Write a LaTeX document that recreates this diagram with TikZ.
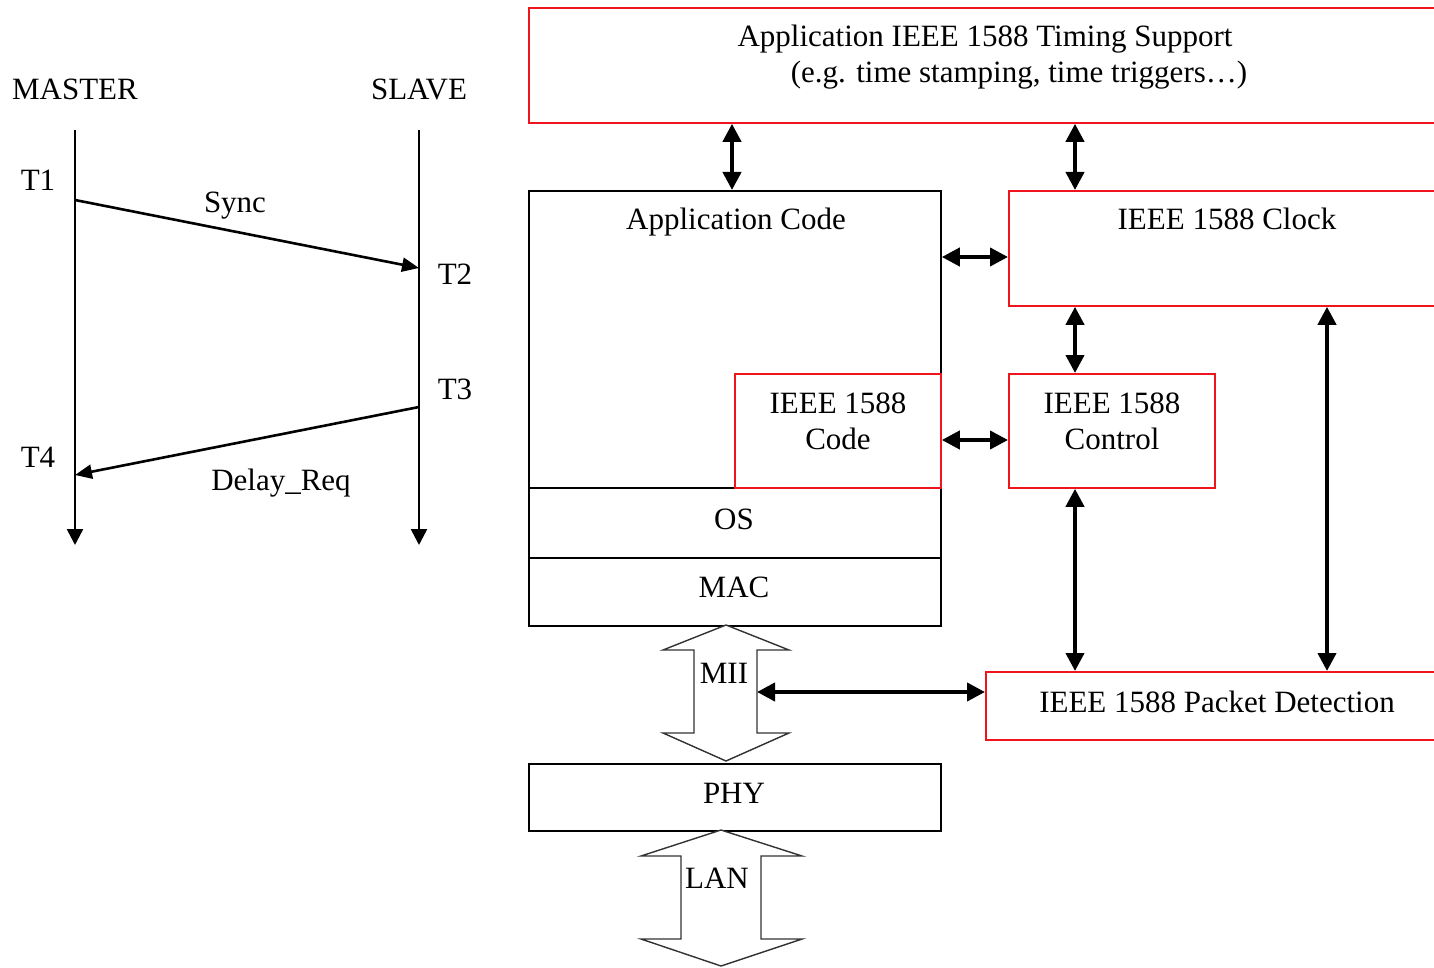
\documentclass[tikz,border=0pt]{standalone}
\usepackage{fontspec}
\setmainfont{Liberation Serif}
\usetikzlibrary{arrows.meta}
\definecolor{bred}{RGB}{240,20,30}
\begin{document}
\begin{tikzpicture}[x=0.5pt,y=-0.5pt,
  txt/.style={font=\fontsize{15.5}{18}\selectfont, inner sep=0, anchor=base},
  blk/.style={draw=black, line width=0.9pt, inner sep=0, anchor=north west},
  rbox/.style={draw=bred, line width=0.9pt, inner sep=0, anchor=north west},
  bigarr/.style={line width=2pt, {Triangle[length=9pt,width=9pt]}-{Triangle[length=9pt,width=9pt]}},
  lifeline/.style={line width=1.3pt, -{Triangle[length=8pt,width=8pt]}},
  msg/.style={line width=1.3pt, -{Triangle[length=8.5pt,width=7pt]}},
  fat/.style={draw=black!80, line width=0.7pt, fill=white, line join=miter}
]
\useasboundingbox (0,0) rectangle (1434,968);
\clip (0,0) rectangle (1434,968);
\fill[white] (0,0) rectangle (1434,968);

% ---------- sequence diagram ----------
\node[txt] (master) at (75,100) {MASTER};
\node[txt] (slave) at (419,100) {SLAVE};
\coordinate (mtop) at (75,130);
\coordinate (mbot) at (75,545);
\coordinate (stop) at (419,130);
\coordinate (sbot) at (419,545);
\draw[lifeline] (mtop) -- (mbot);
\draw[lifeline] (stop) -- (sbot);
\coordinate (t1) at (75,200);
\coordinate (t2) at (419,268);
\coordinate (t3) at (419,407);
\coordinate (t4) at (75,475);
\draw[msg] (t1) -- (t2);
\draw[msg] (t3) -- (t4);
\node[txt] (lt1) at (38,191) {T1};
\node[txt] (lt2) at (455,285) {T2};
\node[txt] (lt3) at (455,399) {T3};
\node[txt] (lt4) at (38,467) {T4};
\node[txt] (lsync) at (235,213) {Sync};
\node[txt] (ldreq) at (281,490) {Delay\_Req};

% ---------- block diagram ----------
\node[rbox, minimum width=456pt, minimum height=57.5pt] (top) at (528,7) {};
\node[txt] (topa) at (985,47) {Application IEEE 1588 Timing Support};
\node[txt] (topb) at (1019,83) {(e.g. time stamping, time triggers\ldots)};

\node[blk, minimum width=206pt, minimum height=148.5pt] (app) at (528,190) {};
\node[txt] (appt) at (736,230) {Application Code};
\node[blk, minimum width=206pt, minimum height=35pt] (os) at (528,487) {};
\node[txt] (ost) at (734,529) {OS};
\node[blk, minimum width=206pt, minimum height=34pt] (mac) at (528,557) {};
\node[txt] (mact) at (734,597) {MAC};
\node[rbox, minimum width=103pt, minimum height=57pt] (code) at (734,373) {};
\node[txt] (codea) at (838,413) {IEEE 1588};
\node[txt] (codeb) at (838,449) {Code};

\node[rbox, minimum width=216pt, minimum height=57.5pt] (clock) at (1008,190) {};
\node[txt] (clockt) at (1227,230) {IEEE 1588 Clock};
\node[rbox, minimum width=103pt, minimum height=57pt] (ctrl) at (1008,373) {};
\node[txt] (ctrla) at (1112,413) {IEEE 1588};
\node[txt] (ctrlb) at (1112,449) {Control};
\node[rbox, minimum width=227.5pt, minimum height=34pt] (pkt) at (985,671) {};
\node[txt] (pktt) at (1217,712) {IEEE 1588 Packet Detection};

\node[blk, minimum width=206pt, minimum height=33.5pt] (phy) at (528,763) {};
\node[txt] (phyt) at (734,803) {PHY};

% MII fat arrow
\draw[fat] (726,625) -- (789,650) -- (757,650) -- (757,733) -- (789,733) -- (726,761)
  -- (663,733) -- (694,733) -- (694,650) -- (663,650) -- cycle;
\node[txt] (mii) at (724,683) {MII};
% LAN fat arrow
\draw[fat] (721,830) -- (802,856) -- (761,856) -- (761,939) -- (802,939) -- (721,966)
  -- (641,939) -- (681,939) -- (681,856) -- (641,856) -- cycle;
\node[txt] (lan) at (717,888) {LAN};

% thick connectors
\coordinate (xa) at (732,0);
\coordinate (xb) at (1075,0);
\coordinate (xc) at (1327,0);
\coordinate (ya) at (0,257);
\coordinate (yb) at (0,440);
\coordinate (miir) at (757,692);
\draw[bigarr] (xa |- top.south) -- (xa |- app.north);
\draw[bigarr] (xb |- top.south) -- (xb |- clock.north);
\draw[bigarr] (xb |- clock.south) -- (xb |- ctrl.north);
\draw[bigarr] (xb |- ctrl.south) -- (xb |- pkt.north);
\draw[bigarr] (xc |- clock.south) -- (xc |- pkt.north);
\draw[bigarr] (app.east |- ya) -- (clock.west |- ya);
\draw[bigarr] (code.east |- yb) -- (ctrl.west |- yb);
\draw[bigarr] (miir) -- (pkt.west |- miir);
\end{tikzpicture}
\end{document}
